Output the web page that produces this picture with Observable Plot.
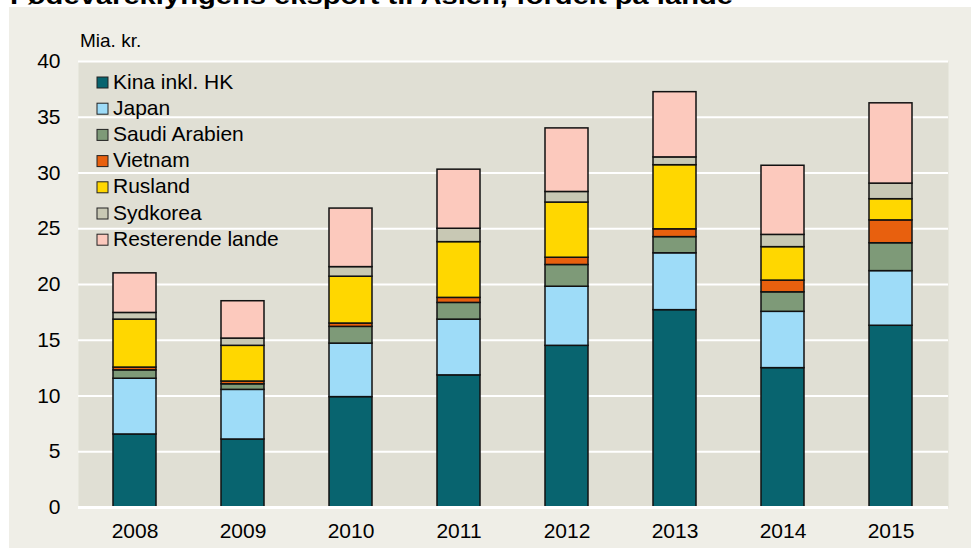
<!DOCTYPE html>
<html>
<head>
<meta charset="utf-8">
<script src="https://cdn.jsdelivr.net/npm/d3@7"></script>
<script src="https://cdn.jsdelivr.net/npm/@observablehq/plot@0.6"></script>
<style>
  html, body { margin: 0; padding: 0; background: #ffffff; }
  #wrap { position: relative; width: 971px; height: 548px; overflow: hidden; }
  #panel { position: absolute; left: 9px; top: 7px; right: 0; bottom: 0; background: #efeee7; }
  #chart { position: absolute; left: 0; top: 0; }
</style>
</head>
<body>
<div id="wrap"><div id="panel"></div><div id="chart"></div></div>
<script>
const title = "Fødevareklyngens eksport til Asien, fordelt på lande";
const unitLabel = "Mia. kr.";
const years = ["2008", "2009", "2010", "2011", "2012", "2013", "2014", "2015"];
const seriesNames = ["Kina inkl. HK", "Japan", "Saudi Arabien", "Vietnam", "Rusland", "Sydkorea", "Resterende lande"];
const seriesColors = ["#08646f", "#9edcf8", "#7e9a78", "#e8600e", "#ffd700", "#c8c8b4", "#fcc9bd"];
const kina     = [6.55, 6.1, 9.9, 11.85, 14.5, 17.7, 12.5, 16.3];
const japan    = [5.0, 4.45, 4.8, 5.0, 5.3, 5.1, 5.05, 4.9];
const saudi    = [0.75, 0.5, 1.5, 1.5, 1.95, 1.45, 1.75, 2.5];
const vietnam  = [0.25, 0.25, 0.3, 0.45, 0.65, 0.7, 1.05, 2.05];
const rusland  = [4.3, 3.2, 4.2, 5.0, 4.95, 5.75, 3.0, 1.9];
const sydkorea = [0.6, 0.65, 0.86, 1.2, 0.95, 0.7, 1.1, 1.4];
const rest     = [3.55, 3.35, 5.25, 5.3, 5.7, 5.85, 6.2, 7.2];
const yTicks = [0, 5, 10, 15, 20, 25, 30, 35, 40];

const seriesValues = [kina, japan, saudi, vietnam, rusland, sydkorea, rest];
const data = [];
seriesNames.forEach((name, si) => {
  years.forEach((yr, i) => data.push({year: yr, series: name, value: seriesValues[si][i]}));
});

const font = "'Liberation Sans', Arial, sans-serif";

const plot = Plot.plot({
  width: 971,
  height: 548,
  marginLeft: 78,
  marginRight: 23,
  marginTop: 61,
  marginBottom: 41,
  style: {background: "transparent", fontFamily: font, fontSize: "21px", color: "#000", overflow: "visible"},
  x: {domain: years, paddingInner: 0.6, paddingOuter: 0.3, label: null},
  y: {domain: [0, 40], label: null},
  color: {domain: seriesNames, range: seriesColors},
  marks: [
    Plot.frame({fill: "#e0dfd4", stroke: null}),
    Plot.gridY(yTicks.filter(d => d > 0), {stroke: "#ffffff", strokeOpacity: 1, strokeWidth: 2}),
    Plot.barY(data, Plot.stackY({
      x: "year", y: "value", fill: "series",
      order: seriesNames,
      stroke: "#111", strokeWidth: 1.5
    })),
    Plot.ruleY([0], {stroke: "#ffffff", strokeWidth: 3}),
    Plot.axisY({ticks: yTicks, tickSize: 0, tickPadding: 18, fontSize: 21, label: null}),
    Plot.axisX({tickSize: 0, tickPadding: 16, fontSize: 21, label: null})
  ]
});

document.getElementById("chart").appendChild(plot);

const svg = d3.select(plot);
// Title (cut off at the top as in the reference)
svg.append("text")
  .attr("x", 10).attr("y", 4)
  .attr("text-anchor", "start")
  .attr("font-family", font)
  .attr("font-size", 24)
  .attr("font-weight", "bold")
  .attr("textLength", 723)
  .attr("lengthAdjust", "spacingAndGlyphs")
  .attr("fill", "#000")
  .text(title);

// Unit label
svg.append("text")
  .attr("x", 80).attr("y", 47)
  .attr("text-anchor", "start")
  .attr("font-family", font)
  .attr("font-size", 19)
  .attr("fill", "#000")
  .text(unitLabel);

// Legend
const lg = svg.append("g").attr("font-family", font).attr("font-size", 21).attr("text-anchor", "start");
seriesNames.forEach((name, i) => {
  const by = 88.5 + i * 26.2;
  lg.append("rect")
    .attr("x", 97).attr("y", by - 11.5)
    .attr("width", 11).attr("height", 11)
    .attr("fill", seriesColors[i])
    .attr("stroke", "#222").attr("stroke-width", 1);
  lg.append("text")
    .attr("x", 113).attr("y", by)
    .attr("fill", "#000")
    .text(name);
});
</script>
</body>
</html>
